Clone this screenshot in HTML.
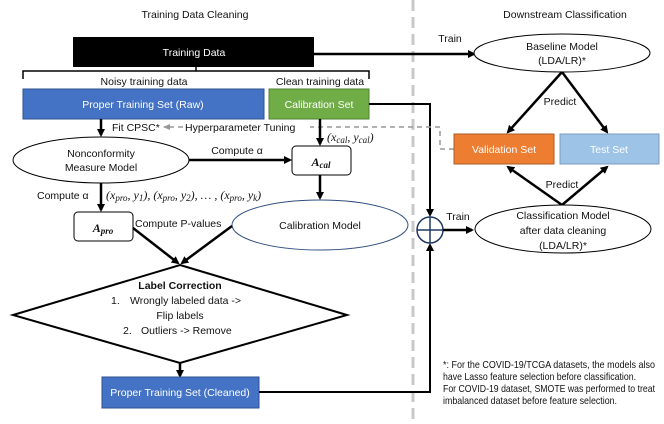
<!DOCTYPE html>
<html><head><meta charset="utf-8"><style>
html,body{margin:0;padding:0;background:#fff}
svg{display:block}
text{font-family:"Liberation Sans",sans-serif;font-size:10.5px;fill:#111}
.w{fill:#fff}
.m{font-family:"Liberation Serif",serif;font-style:italic;font-size:12px}
</style></head><body>
<svg width="664" height="424" viewBox="0 0 664 424" xmlns="http://www.w3.org/2000/svg">
<defs>
<marker id="a" markerWidth="8" markerHeight="8" refX="6" refY="4" orient="auto" markerUnits="userSpaceOnUse"><path d="M0,0 L8,4 L0,8 z" fill="#000"/></marker>
<marker id="g" markerWidth="8" markerHeight="8" refX="6" refY="4" orient="auto" markerUnits="userSpaceOnUse"><path d="M0,1 L7,4 L0,7 z" fill="#999"/></marker>
</defs>
<line x1="413" y1="0" x2="413" y2="424" stroke="#c8c8c8" stroke-width="3" stroke-dasharray="11,6"/>
<text x="195" y="18" text-anchor="middle">Training Data Cleaning</text>
<text x="565" y="18" text-anchor="middle">Downstream Classification</text>

<rect x="73" y="37" width="241" height="30" fill="#000"/>
<text x="194" y="56" text-anchor="middle" class="w">Training Data</text>
<line x1="314" y1="54" x2="474" y2="54" stroke="#000" stroke-width="2.5" marker-end="url(#a)"/>
<text x="450" y="42" text-anchor="middle">Train</text>
<path d="M23,79 V71 H369 V79 M196,67 V71" fill="none" stroke="#000" stroke-width="1.5"/>
<text x="144" y="85" text-anchor="middle">Noisy training data</text>
<text x="320" y="85" text-anchor="middle">Clean training data</text>

<rect x="23" y="89" width="241" height="30" fill="#4472c4" stroke="#2f528f"/>
<text x="143" y="108" text-anchor="middle" class="w">Proper Training Set (Raw)</text>
<rect x="269" y="89" width="100" height="30" fill="#70ad47" stroke="#507e32"/>
<text x="319" y="108" text-anchor="middle" class="w">Calibration Set</text>

<polyline points="369,104 430,104 430,215" fill="none" stroke="#000" stroke-width="2" marker-end="url(#a)"/>
<polyline points="454,149 440,149 440,127 310,127" fill="none" stroke="#999" stroke-width="1.5" stroke-dasharray="5,4"/>
<line x1="183" y1="127" x2="164" y2="127" stroke="#999" stroke-width="1.5" stroke-dasharray="5,4" marker-end="url(#g)"/>
<text x="112" y="131">Fit CPSC*</text>
<text x="185" y="131">Hyperparameter Tuning</text>

<line x1="101" y1="119" x2="101" y2="135" stroke="#000" stroke-width="2.5" marker-end="url(#a)"/>
<ellipse cx="101" cy="160" rx="88" ry="23" fill="#fff" stroke="#000"/>
<text x="101" y="157" text-anchor="middle">Nonconformity</text>
<text x="101" y="171" text-anchor="middle">Measure Model</text>
<line x1="189" y1="160" x2="290" y2="160" stroke="#000" stroke-width="2.5" marker-end="url(#a)"/>
<text x="237" y="154" text-anchor="middle">Compute α</text>

<line x1="320" y1="119" x2="320" y2="144" stroke="#000" stroke-width="2.5" marker-end="url(#a)"/>
<text x="327" y="141" class="m">(x<tspan font-size="9" dy="2">cal</tspan><tspan dy="-2">, y</tspan><tspan font-size="9" dy="2">cal</tspan><tspan dy="-2">)</tspan></text>
<rect x="292" y="146" width="59" height="29" rx="4" fill="#fff" stroke="#000"/>
<text x="321" y="166" text-anchor="middle" class="m" font-weight="bold" font-size="12">A<tspan font-size="9" dy="2">cal</tspan></text>
<line x1="320" y1="175" x2="320" y2="198" stroke="#000" stroke-width="2.5" marker-end="url(#a)"/>
<ellipse cx="320" cy="225" rx="88" ry="25" fill="#fff" stroke="#2f4f7f"/>
<text x="320" y="229" text-anchor="middle">Calibration Model</text>

<line x1="101" y1="183" x2="101" y2="210" stroke="#000" stroke-width="2.5" marker-end="url(#a)"/>
<text x="37" y="199">Compute α</text>
<text x="106" y="199" class="m">(x<tspan font-size="9" dy="2">pro</tspan><tspan dy="-2">, y</tspan><tspan font-size="9" dy="2">1</tspan><tspan dy="-2">), (x</tspan><tspan font-size="9" dy="2">pro</tspan><tspan dy="-2">, y</tspan><tspan font-size="9" dy="2">2</tspan><tspan dy="-2">), … , (x</tspan><tspan font-size="9" dy="2">pro</tspan><tspan dy="-2">, y</tspan><tspan font-size="9" dy="2">k</tspan><tspan dy="-2">)</tspan></text>
<rect x="74" y="212" width="59" height="29" rx="4" fill="#fff" stroke="#000"/>
<text x="103" y="232" text-anchor="middle" class="m" font-weight="bold" font-size="12">A<tspan font-size="9" dy="2">pro</tspan></text>
<text x="135" y="227">Compute P-values</text>

<line x1="133" y1="228" x2="178" y2="263" stroke="#000" stroke-width="2.5" marker-end="url(#a)"/>
<line x1="232" y1="226" x2="182" y2="263" stroke="#000" stroke-width="2.5" marker-end="url(#a)"/>
<polygon points="180,265 347,315 180,363 13,315" fill="#fff" stroke="#000" stroke-width="2"/>
<text x="180" y="289" text-anchor="middle" font-weight="bold">Label Correction</text>
<text x="111" y="304">1.</text><text x="130" y="304">Wrongly labeled data -&gt;</text>
<text x="180" y="319" text-anchor="middle">Flip labels</text>
<text x="123" y="334">2.</text><text x="141" y="334">Outliers -&gt; Remove</text>
<line x1="180" y1="363" x2="180" y2="376" stroke="#000" stroke-width="2.5" marker-end="url(#a)"/>
<rect x="102" y="377" width="157" height="31" fill="#4472c4" stroke="#2f528f"/>
<text x="180" y="396" text-anchor="middle" class="w">Proper Training Set (Cleaned)</text>
<polyline points="259,392 430,392 430,245" fill="none" stroke="#000" stroke-width="2" marker-end="url(#a)"/>

<circle cx="430" cy="230" r="13" fill="#fff" stroke="#1f3864" stroke-width="1.5"/>
<path d="M417,230 H443 M430,217 V243" stroke="#1f3864" stroke-width="1.5"/>
<line x1="443" y1="230" x2="472" y2="230" stroke="#000" stroke-width="2.5" marker-end="url(#a)"/>
<text x="458" y="220" text-anchor="middle">Train</text>

<ellipse cx="562" cy="53" rx="88" ry="19" fill="#fff" stroke="#000"/>
<text x="562" y="50" text-anchor="middle">Baseline Model</text>
<text x="562" y="64" text-anchor="middle">(LDA/LR)*</text>
<line x1="562" y1="72" x2="508" y2="132" stroke="#000" stroke-width="2.5" marker-end="url(#a)"/>
<line x1="562" y1="72" x2="607" y2="132" stroke="#000" stroke-width="2.5" marker-end="url(#a)"/>
<text x="560" y="105" text-anchor="middle">Predict</text>
<rect x="454" y="134" width="100" height="30" fill="#ed7d31" stroke="#ae5a21"/>
<text x="504" y="153" text-anchor="middle" class="w">Validation Set</text>
<rect x="560" y="134" width="99" height="30" fill="#9dc3e6" stroke="#7a9cc0"/>
<text x="609" y="153" text-anchor="middle" class="w">Test Set</text>
<line x1="562" y1="205" x2="508" y2="167" stroke="#000" stroke-width="2.5" marker-end="url(#a)"/>
<line x1="562" y1="205" x2="607" y2="167" stroke="#000" stroke-width="2.5" marker-end="url(#a)"/>
<text x="562" y="188" text-anchor="middle">Predict</text>
<ellipse cx="563" cy="229" rx="88" ry="24" fill="#fff" stroke="#000"/>
<text x="563" y="219" text-anchor="middle">Classification Model</text>
<text x="563" y="234" text-anchor="middle">after data cleaning</text>
<text x="563" y="249" text-anchor="middle">(LDA/LR)*</text>

<text x="443" y="368" font-size="8" textLength="212" lengthAdjust="spacingAndGlyphs">*: For the COVID-19/TCGA datasets, the models also</text>
<text x="443" y="380" font-size="8" textLength="193" lengthAdjust="spacingAndGlyphs">have Lasso feature selection before classification.</text>
<text x="443" y="392" font-size="8" textLength="212" lengthAdjust="spacingAndGlyphs">For COVID-19 dataset, SMOTE was performed to treat</text>
<text x="443" y="404" font-size="8" textLength="174" lengthAdjust="spacingAndGlyphs">imbalanced dataset before feature selection.</text>
</svg>
</body></html>
